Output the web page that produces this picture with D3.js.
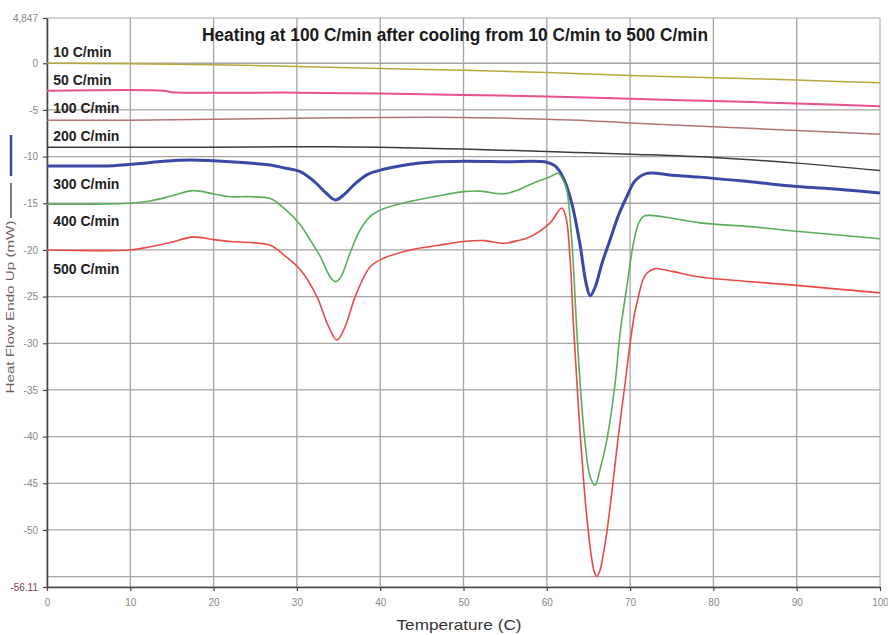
<!DOCTYPE html>
<html>
<head>
<meta charset="utf-8">
<script src="https://cdn.jsdelivr.net/npm/d3@7"></script>
<style>
  body { margin: 0; background: #fff; }
  svg { display: block; font-family: "Liberation Sans", Arial, sans-serif; }
</style>
</head>
<body>
<div id="chart"></div>
<script>
// temperature (C) vs heat flow (mW)
const rate10 = [[0,0],[10,-0.05],[20,-0.15],[30,-0.35],[40,-0.55],[50,-0.75],[60,-1.0],[70,-1.3],[80,-1.55],[90,-1.8],[100,-2.1]];
const rate50 = [[0,-2.95],[14,-2.95],[15,-3.1],[30,-3.15],[40,-3.25],[50,-3.4],[60,-3.55],[70,-3.8],[80,-4.05],[90,-4.3],[100,-4.6]];
const rate100 = [[0,-6.1],[10,-6.1],[20,-6.0],[30,-5.9],[40,-5.8],[50,-5.8],[60,-6.0],[65,-6.15],[70,-6.4],[80,-6.8],[90,-7.2],[100,-7.6]];
const rate200 = [[0,-9.0],[10,-9.0],[20,-9.0],[30,-8.95],[40,-9.0],[50,-9.2],[60,-9.45],[65,-9.6],[70,-9.75],[80,-10.1],[90,-10.7],[100,-11.5]];
const rate300 = [[0,-11.0],[8,-10.97],[11.2,-10.75],[14,-10.5],[17.2,-10.36],[20,-10.45],[22,-10.55],[25,-10.75],[26.8,-10.9],[28.4,-11.2],[30.4,-11.6],[32,-12.6],[33.5,-13.9],[34.6,-14.65],[35.5,-14.2],[37,-12.9],[38.5,-11.9],[40.4,-11.36],[43.6,-10.82],[46,-10.6],[50,-10.5],[55,-10.55],[60,-10.6],[61,-11.0],[62,-12.3],[63,-15],[64,-19.5],[64.7,-23.5],[65.2,-24.9],[65.8,-24],[66.6,-21.5],[67.6,-18.9],[68.6,-16.3],[69.6,-14.3],[70.6,-12.6],[72,-11.8],[75,-12.0],[78.4,-12.2],[84.4,-12.7],[90,-13.2],[95,-13.5],[100,-13.9]];
const rate400 = [[0,-15.1],[5,-15.1],[10,-15.0],[12.4,-14.75],[15,-14.2],[17.6,-13.65],[20,-14.0],[22,-14.3],[24.4,-14.3],[26.8,-14.5],[28.4,-15.5],[30.4,-17.3],[31.5,-18.8],[32.8,-20.7],[34,-22.9],[34.6,-23.4],[35.2,-23.0],[36.4,-20.3],[37.5,-18.0],[38.8,-16.4],[40.4,-15.6],[43.6,-14.8],[47,-14.2],[50,-13.75],[52,-13.7],[54.8,-14.0],[56.5,-13.6],[58,-13.0],[60.4,-12.15],[61.4,-11.8],[62,-12.6],[62.4,-13.6],[63,-19],[63.6,-28.6],[64.1,-35.5],[64.6,-40.7],[65.2,-44.3],[65.8,-45.2],[66.4,-43.5],[67.2,-40.4],[68.2,-34.3],[68.8,-28.9],[69.6,-24],[70.4,-19.3],[71,-17.2],[71.6,-16.4],[72.4,-16.3],[75,-16.6],[78.4,-17.1],[84.4,-17.5],[90,-18.0],[95,-18.4],[100,-18.8]];
const rate500 = [[0,-20.0],[10,-20.0],[12.4,-19.65],[14.8,-19.2],[17.6,-18.6],[20,-18.9],[22,-19.1],[24.4,-19.2],[26.8,-19.5],[28.4,-20.5],[30.4,-22.1],[32.4,-25],[33.8,-28.2],[34.8,-29.65],[35.8,-28.2],[37,-25],[38.8,-21.8],[40.4,-20.9],[43.6,-20.0],[47,-19.5],[50,-19.1],[52.5,-19.0],[54.8,-19.3],[56.5,-19.0],[58,-18.6],[60.4,-17.1],[61.8,-15.5],[62.3,-16.5],[62.8,-21],[63.2,-28],[63.6,-34],[64,-39.6],[64.4,-44.5],[64.8,-48.6],[65.3,-52.5],[65.7,-54.5],[66.0,-55.0],[66.4,-54.3],[66.8,-52.5],[67.2,-50.3],[67.8,-46],[68.4,-41.4],[69.0,-37],[69.4,-34.3],[70,-30],[70.5,-27],[71,-25],[71.5,-23.3],[72,-22.5],[73,-22.0],[75,-22.3],[78.4,-22.9],[84.4,-23.4],[90,-23.8],[95,-24.2],[100,-24.6]];

const seriesNames = ["10 C/min", "50 C/min", "100 C/min", "200 C/min", "300 C/min", "400 C/min", "500 C/min"];
const seriesData = [rate10, rate50, rate100, rate200, rate300, rate400, rate500];

const xTicks = [0, 10, 20, 30, 40, 50, 60, 70, 80, 90, 100];
const yGrid = [0, -5, -10, -15, -20, -25, -30, -35, -40, -45, -50, -55];
const yTickValues = [4.847, 0, -5, -10, -15, -20, -25, -30, -35, -40, -45, -50, -56.11];
const yTickLabels = ["4,847", "0", "-5", "-10", "-15", "-20", "-25", "-30", "-35", "-40", "-45", "-50", "-56.11"];

const title = "Heating at 100 C/min after cooling from 10 C/min to 500 C/min";

// styling
const colors = ["#b8a83c", "#e8508e", "#b07474", "#3c3c3c", "#3a48a6", "#5aae58", "#ec4a46"];
const widths = [1.5, 2, 1.5, 1.5, 3, 1.6, 1.6];
// label baselines, in data units, at the left of the plot
const labelY = [0.67, -2.33, -5.33, -8.33, -13.47, -17.4, -22.57];

const W = 888, H = 635;
const margin = {top: 18, right: 8, bottom: 48, left: 47};
const width = W - margin.left - margin.right,
      height = H - margin.top - margin.bottom;

const svg = d3.select("#chart").append("svg")
  .attr("width", W).attr("height", H);

const g = svg.append("g")
  .attr("transform", `translate(${margin.left},${margin.top})`);

const x = d3.scaleLinear().domain([0, 100]).range([0, width]);
const y = d3.scaleLinear().domain([-56.11, 4.847]).range([height, 0]);

// frame
g.append("rect")
  .attr("x", 0).attr("y", 0)
  .attr("width", width).attr("height", height)
  .attr("fill", "#fff")
  .attr("stroke", "#c8c4c4")
  .attr("stroke-width", 1.5);

// grid
g.selectAll(".vgrid")
  .data(xTicks.filter(d => d > 0 && d < 100))
  .enter().append("line")
  .attr("class", "vgrid")
  .attr("x1", d => x(d)).attr("x2", d => x(d))
  .attr("y1", 0).attr("y2", height)
  .attr("stroke", "#a8a2a2")
  .attr("stroke-width", 1.3);

g.selectAll(".hgrid")
  .data(yGrid)
  .enter().append("line")
  .attr("class", "hgrid")
  .attr("x1", 0).attr("x2", width)
  .attr("y1", d => y(d)).attr("y2", d => y(d))
  .attr("stroke", "#a8a2a2")
  .attr("stroke-width", 1.3);

// axes
const xAxis = g.append("g")
  .attr("transform", `translate(0,${height})`)
  .call(d3.axisBottom(x).tickValues(xTicks).tickSize(4).tickSizeOuter(0).tickPadding(8));

const yAxis = g.append("g")
  .call(d3.axisLeft(y).tickValues(yTickValues).tickSize(4).tickSizeOuter(0).tickPadding(5)
    .tickFormat((d, i) => yTickLabels[i]));

[xAxis, yAxis].forEach(a => {
  a.select(".domain").attr("stroke", "#4a4646").attr("stroke-width", 1.6);
  a.selectAll(".tick line").attr("stroke", "#4a4646").attr("stroke-width", 1.2);
  a.selectAll(".tick text")
    .attr("fill", "#8a8686")
    .style("font-size", "10px");
});
yAxis.selectAll(".tick text").filter((d, i) => i === yTickLabels.length - 1).attr("fill", "#8a3a5a");

// curves
const line = d3.line()
  .x(d => x(d[0]))
  .y(d => y(d[1]))
  .curve(d3.curveCatmullRom.alpha(0.5));

g.selectAll(".curve")
  .data(seriesData)
  .enter().append("path")
  .attr("class", "curve")
  .attr("d", line)
  .attr("fill", "none")
  .attr("stroke", (d, i) => colors[i])
  .attr("stroke-width", (d, i) => widths[i])
  .attr("stroke-linejoin", "round");

// series labels
g.selectAll(".slabel")
  .data(seriesNames)
  .enter().append("text")
  .attr("class", "slabel")
  .attr("x", x(0.75))
  .attr("y", (d, i) => y(labelY[i]))
  .attr("fill", "#222")
  .style("font-size", "14px")
  .style("font-weight", "bold")
  .text(d => d);

// title
g.append("text")
  .attr("x", x(18.6))
  .attr("y", 23)
  .attr("fill", "#1a1a1a")
  .attr("textLength", 506)
  .attr("lengthAdjust", "spacingAndGlyphs")
  .style("font-size", "18px")
  .style("font-weight", "bold")
  .text(title);

// axis titles
svg.append("text")
  .attr("x", 459)
  .attr("y", 630)
  .attr("text-anchor", "middle")
  .attr("fill", "#333")
  .attr("textLength", 125)
  .attr("lengthAdjust", "spacingAndGlyphs")
  .style("font-size", "15px")
  .text("Temperature (C)");

svg.append("text")
  .attr("transform", "translate(14,307) rotate(-90)")
  .attr("text-anchor", "middle")
  .attr("fill", "#6e5e5e")
  .attr("textLength", 173)
  .attr("lengthAdjust", "spacingAndGlyphs")
  .style("font-size", "11px")
  .text("Heat Flow Endo Up (mW)");

// the two small series markers beside the axis title
svg.append("line")
  .attr("x1", 11).attr("x2", 11).attr("y1", 135).attr("y2", 176)
  .attr("stroke", colors[4]).attr("stroke-width", 2.5);
svg.append("line")
  .attr("x1", 11).attr("x2", 11).attr("y1", 183).attr("y2", 218)
  .attr("stroke", "#333").attr("stroke-width", 1.3);
</script>
</body>
</html>
